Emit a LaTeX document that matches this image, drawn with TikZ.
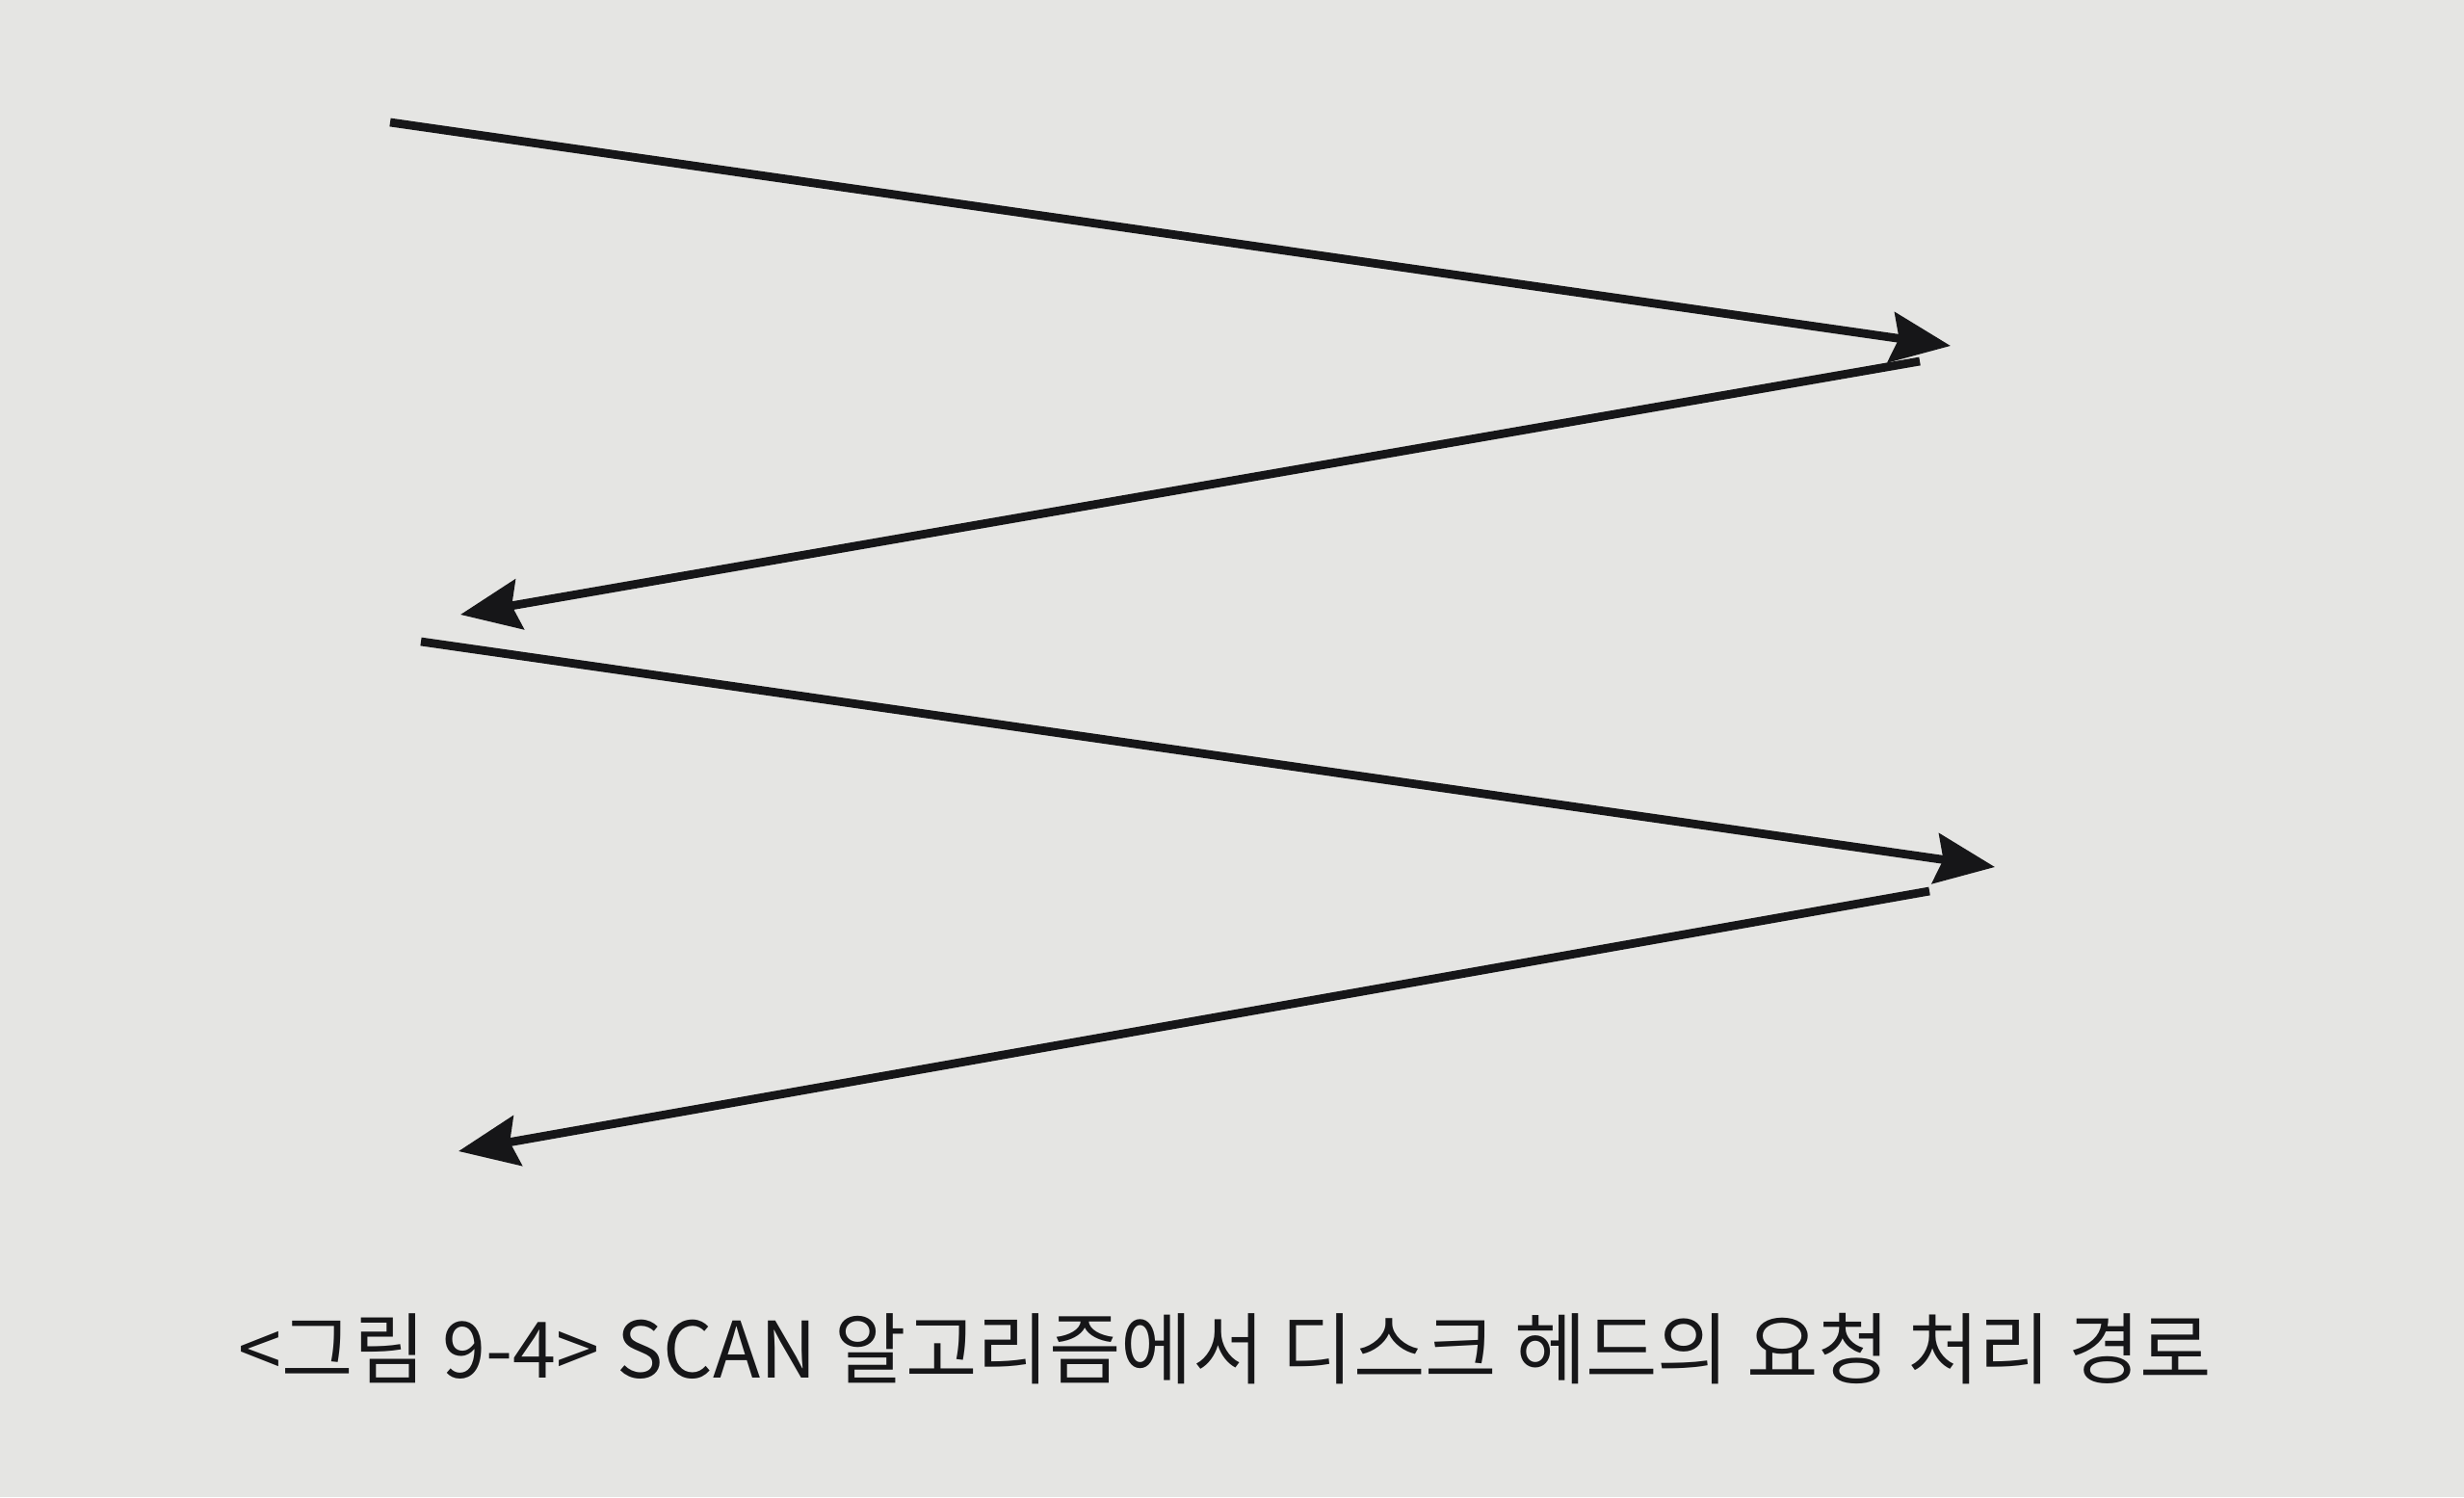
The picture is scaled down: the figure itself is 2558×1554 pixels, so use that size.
\documentclass[tikz,border=0pt]{standalone}
\usepackage{fontspec}
\newfontfamily\kr{Noto Sans CJK KR}
\usetikzlibrary{arrows.meta}
\definecolor{paper}{RGB}{229,229,227}
\definecolor{ink}{RGB}{22,22,24}
\tikzset{
  scan/.style={draw=ink, line width=2.5pt, -{Stealth[length=6.2mm,width=5.2mm,inset=0.8mm]}},
}
\begin{document}
\begin{tikzpicture}[x=0.01cm,y=-0.01cm]

	\fill[paper] (0,0) rectangle (2558,1554);
	\useasboundingbox (0,0) rectangle (2558,1554);

	\coordinate (s1) at (405, 127);
	\coordinate (t1) at (2025, 359);
	\coordinate (s2) at (1993, 375);
	\coordinate (t2) at (478, 638);
	\coordinate (s3) at (437, 666);
	\coordinate (t3) at (2071, 900);
	\coordinate (s4) at (2003, 925);
	\coordinate (t4) at (476, 1195);

	\draw[scan] (s1) -- (t1);
	\draw[scan] (s2) -- (t2);
	\draw[scan] (s3) -- (t3);
	\draw[scan] (s4) -- (t4);

	\node[text=ink, font=\kr\fontsize{23pt}{27pt}\selectfont] (cap) at (1272, 1400) {<그림 9-4> SCAN 알고리즘에서 디스크 헤드의 요청 처리 경로};

\end{tikzpicture}
\end{document}
